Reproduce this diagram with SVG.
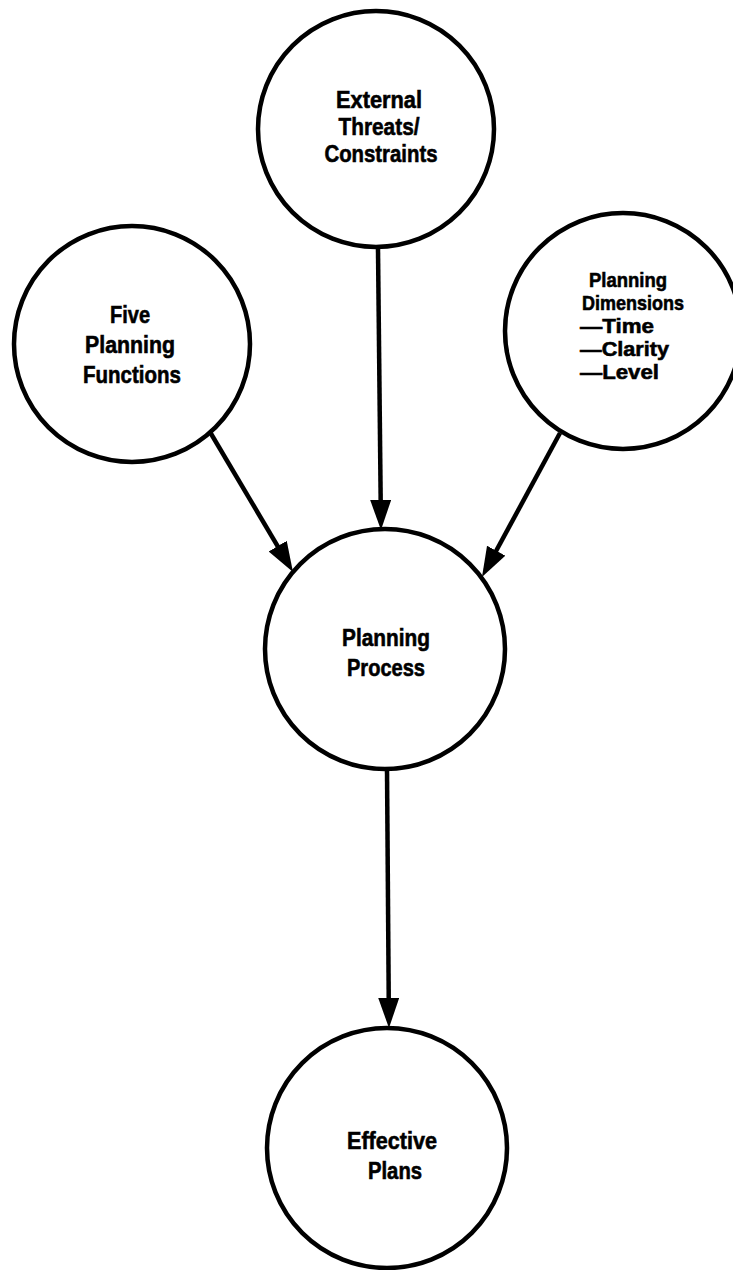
<svg xmlns="http://www.w3.org/2000/svg" width="733" height="1270" viewBox="0 0 733 1270">
<style>
.node circle{fill:#fff;stroke:#000;stroke-width:4.5}
.node text{font-family:"Liberation Sans",Arial,sans-serif;font-weight:bold;font-size:24px;fill:#000;stroke:#000;stroke-width:0.6;text-anchor:middle}
.node text.sm{font-size:21px}
.node text.st{text-anchor:start}
.edges line{stroke:#000;stroke-width:4.5;marker-end:url(#arr)}
</style>
<defs>
<marker id="arr" markerUnits="userSpaceOnUse" markerWidth="32" markerHeight="22" refX="22" refY="10.5" orient="auto">
<path d="M0,0 L30,10.5 L0,21 z" fill="#000"/>
</marker>
</defs>
<rect width="733" height="1270" fill="#fff"/>
<g class="edges" id="connectors">
<line x1="378" y1="249" x2="380.9" y2="522"/>
<line x1="210" y1="432" x2="288.9" y2="565.1"/>
<line x1="560" y1="433" x2="485.8" y2="570"/>
<line x1="387" y1="769" x2="388.9" y2="1020"/>
</g>
<g class="node" id="external">
<circle cx="376" cy="129" r="118"/>
<text x="379" y="108" textLength="86" lengthAdjust="spacingAndGlyphs">External</text>
<text x="379" y="135" textLength="81" lengthAdjust="spacingAndGlyphs">Threats/</text>
<text x="381" y="162" textLength="113" lengthAdjust="spacingAndGlyphs">Constraints</text>
</g>
<g class="node" id="five">
<circle cx="132" cy="344" r="118"/>
<text x="130" y="323" textLength="40" lengthAdjust="spacingAndGlyphs">Five</text>
<text x="130" y="353" textLength="90" lengthAdjust="spacingAndGlyphs">Planning</text>
<text x="132" y="383" textLength="98" lengthAdjust="spacingAndGlyphs">Functions</text>
</g>
<g class="node" id="dimensions">
<circle cx="623" cy="331" r="118"/>
<text class="sm" x="628" y="287" textLength="78" lengthAdjust="spacingAndGlyphs">Planning</text>
<text class="sm" x="633" y="310" textLength="102" lengthAdjust="spacingAndGlyphs">Dimensions</text>
<text class="sm st" x="580" y="333" textLength="74" lengthAdjust="spacingAndGlyphs">—Time</text>
<text class="sm st" x="580" y="356" textLength="89" lengthAdjust="spacingAndGlyphs">—Clarity</text>
<text class="sm st" x="580" y="379" textLength="79" lengthAdjust="spacingAndGlyphs">—Level</text>
</g>
<g class="node" id="process">
<circle cx="385" cy="649" r="120"/>
<text x="386" y="646" textLength="88" lengthAdjust="spacingAndGlyphs">Planning</text>
<text x="386" y="676" textLength="78" lengthAdjust="spacingAndGlyphs">Process</text>
</g>
<g class="node" id="effective">
<circle cx="387" cy="1148" r="120"/>
<text x="392" y="1149" textLength="90" lengthAdjust="spacingAndGlyphs">Effective</text>
<text x="395" y="1179" textLength="54" lengthAdjust="spacingAndGlyphs">Plans</text>
</g>
</svg>
